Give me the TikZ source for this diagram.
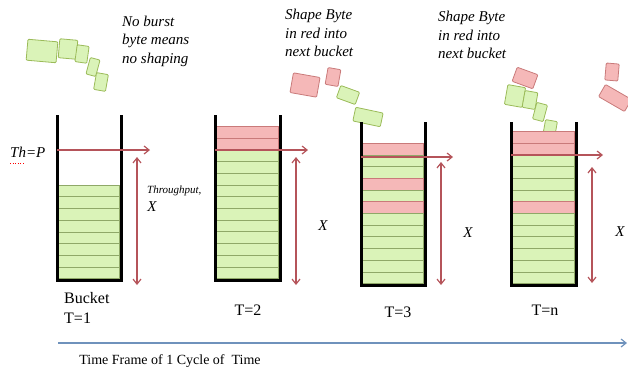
\documentclass[tikz,border=0pt]{standalone}
\usepackage{fontspec}
\setmainfont{Liberation Serif}
\usetikzlibrary{arrows.meta}
\definecolor{bytegreen}{HTML}{DAF3B8}
\definecolor{byteedge}{HTML}{9BBB59}
\definecolor{bytered}{HTML}{F5B8B8}
\definecolor{rededge}{HTML}{C97A7A}
\definecolor{stripline}{HTML}{8FA868}
\definecolor{arrowred}{HTML}{B5545A}
\definecolor{timeblue}{HTML}{6F92BC}
\tikzset{
  wall/.style={line width=3pt, line join=miter},
  stripg/.style={fill=bytegreen, draw=stripline, line width=.6pt},
  stripr/.style={fill=bytered, draw=rededge, line width=.6pt},
  gblock/.style={draw=byteedge, fill=bytegreen, line width=.8pt, rounded corners=1pt, inner sep=0pt},
  rblock/.style={draw=rededge, fill=bytered, line width=.8pt, rounded corners=1pt, inner sep=0pt},
  tharrow/.style={draw=arrowred, line width=1.2pt, -{Straight Barb[length=5pt,width=8pt]}},
  xarrow/.style={draw=arrowred, line width=1.2pt, {Straight Barb[length=5pt,width=8pt]}-{Straight Barb[length=5pt,width=8pt]}},
  note/.style={font=\fontsize{15}{18.5}\selectfont\itshape, align=left, inner sep=0pt},
  tlabel/.style={font=\fontsize{16}{20}\selectfont, align=left, inner sep=0pt},
  xlabel/.style={font=\fontsize{15}{18}\selectfont\itshape, inner sep=0pt}
}
\begin{document}
\begin{tikzpicture}[x=1pt, y=-1pt]
   \useasboundingbox (0,0) rectangle (628,368);
   % notes
   \node[note, anchor=west] (n1) at (122,41) {No burst\\byte means\\no shaping};
   \node[note, anchor=west] (n2) at (285,33) {Shape Byte\\in red into\\next bucket};
   \node[note, anchor=west] (n3) at (438,35) {Shape Byte\\in red into\\next bucket};
   % flying bytes
   \node[gblock, minimum width=30, minimum height=21, rotate=-5] (g1) at (42,51) {};
   \node[gblock, minimum width=18, minimum height=19, rotate=-5] (g2) at (68,49) {};
   \node[gblock, minimum width=12, minimum height=17, rotate=-8] (g3) at (82,54) {};
   \node[gblock, minimum width=10, minimum height=17, rotate=-15] (g4) at (93,67) {};
   \node[gblock, minimum width=12, minimum height=17, rotate=-10] (g5) at (101,82) {};
   \node[rblock, minimum width=27, minimum height=20, rotate=-10] (r1) at (305,85) {};
   \node[rblock, minimum width=13, minimum height=17, rotate=-10] (r2) at (333,77) {};
   \node[gblock, minimum width=20, minimum height=13, rotate=-20] (g6) at (348,95) {};
   \node[gblock, minimum width=28, minimum height=14, rotate=-12] (g7) at (368,117) {};
   \node[rblock, minimum width=22, minimum height=15, rotate=-20] (r3) at (525,78) {};
   \node[gblock, minimum width=18, minimum height=20, rotate=-10] (g8) at (515,96) {};
   \node[gblock, minimum width=13, minimum height=17, rotate=-10] (g9) at (530,100) {};
   \node[gblock, minimum width=11, minimum height=17, rotate=-15] (g10) at (540,112) {};
   \node[gblock, minimum width=12, minimum height=17, rotate=-10] (g11) at (550,129) {};
   \node[rblock, minimum width=13, minimum height=17, rotate=-5] (r4) at (612,72) {};
   \node[rblock, minimum width=30, minimum height=14, rotate=-30] (r5) at (615,98) {};
   % bucket 1
   \foreach \c [count=\i from 0] in {g,g,g,g,g,g,g,g}
      \draw[strip\c] (58.5,{185+\i*11.7}) rectangle (119.5,{196.7+\i*11.7});
   \draw[wall] (57,115) -- (57,280) -- (121,280) -- (121,115);
   % bucket 2
   \foreach \c [count=\i from 0] in {r,r,g,g,g,g,g,g,g,g,g,g,g}
      \draw[strip\c] (216.5,{126.4+\i*11.7}) rectangle (278.5,{138.1+\i*11.7});
   \draw[wall] (215,115) -- (215,280) -- (280,280) -- (280,115);
   % bucket 3
   \foreach \c [count=\i from 0] in {r,g,g,r,g,r,g,g,g,g,g,g}
      \draw[strip\c] (362.5,{143.1+\i*11.7}) rectangle (423.5,{154.8+\i*11.7});
   \draw[wall] (361,122) -- (361,285) -- (425,285) -- (425,122);
   % bucket 4
   \foreach \c [count=\i from 0] in {r,r,g,g,g,g,r,g,g,g,g,g,g}
      \draw[strip\c] (512.5,{131.4+\i*11.7}) rectangle (574.5,{143.1+\i*11.7});
   \draw[wall] (511,122) -- (511,285) -- (576,285) -- (576,122);
   % threshold and throughput
   \coordinate (th1) at (57,150);  \coordinate (th1e) at (150,150);
   \coordinate (th2) at (215,150); \coordinate (th2e) at (308,150);
   \coordinate (th3) at (361,157); \coordinate (th3e) at (453,157);
   \coordinate (th4) at (511,155); \coordinate (th4e) at (603,155);
   \coordinate (x1t) at (137,157); \coordinate (x1b) at (137,285);
   \coordinate (x2t) at (296,157); \coordinate (x2b) at (296,285);
   \coordinate (x3t) at (441,162); \coordinate (x3b) at (441,285);
   \coordinate (x4t) at (592,167); \coordinate (x4b) at (592,283);
   \foreach \k in {1,2,3,4} {
      \draw[tharrow] (th\k) -- (th\k e);
      \draw[xarrow] (x\k t) -- (x\k b);
   }
   \node[xlabel, anchor=west] (thp) at (10,152) {Th=P};
   \draw[red, line width=.6pt, dotted] ([yshift=-6pt]thp.south west) -- ++(14,0);
   \node[font=\fontsize{11}{13}\selectfont\itshape, anchor=west, inner sep=0pt] (tp) at (147,191) {Throughput,};
   \node[xlabel] (x1) at (152,207) {X};
   \node[xlabel] (x2) at (323,226) {X};
   \node[xlabel] (x3) at (468,233) {X};
   \node[xlabel] (x4) at (620,232) {X};
   % time labels
   \node[tlabel, anchor=west] (t1) at (64,308) {Bucket\\T=1};
   \node[tlabel] (t2) at (248,310) {T=2};
   \node[tlabel] (t3) at (398,312) {T=3};
   \node[tlabel] (tn) at (545,310) {T=n};
   \coordinate (f0) at (58,343);
   \coordinate (f1) at (627,343);
   \draw[timeblue, line width=1.2pt, -{Straight Barb[length=5pt,width=8pt]}] (f0) -- (f1);
   \node[font=\fontsize{14}{16}\selectfont, inner sep=0pt] (tf) at (170,361) {Time Frame of 1 Cycle of~ Time};
\end{tikzpicture}
\end{document}
